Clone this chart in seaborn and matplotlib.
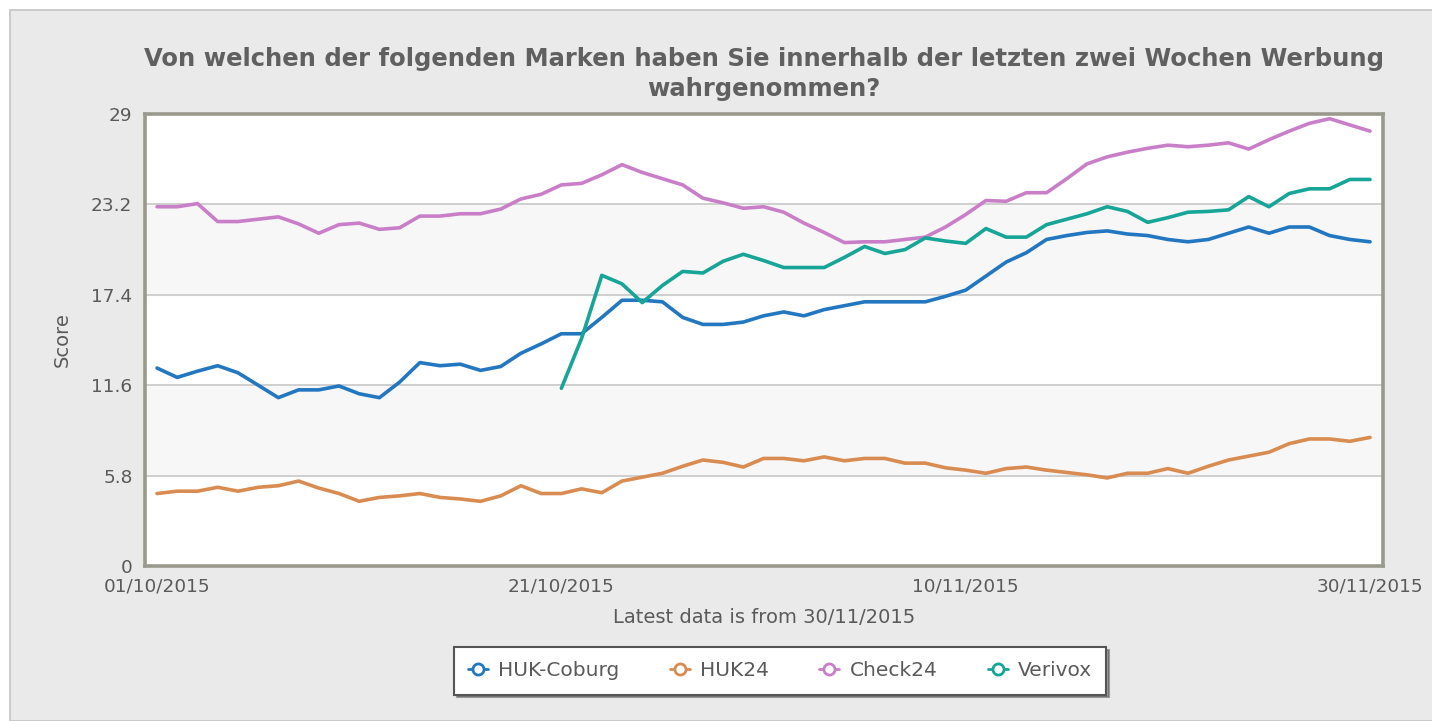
import pandas as pd
import numpy as np
import seaborn as sns
import matplotlib.pyplot as plt
from matplotlib.lines import Line2D
from matplotlib.patches import Rectangle

# daily scores 01/10/2015 .. 30/11/2015
dates = pd.date_range("2015-10-01", "2015-11-30", freq="D")

huk_coburg = [12.7, 12.1, 12.5, 12.85, 12.4, 11.6, 10.8, 11.3, 11.3, 11.55,
              11.05, 10.8, 11.8, 13.05, 12.85, 12.95, 12.55, 12.8, 13.65, 14.25,
              14.9, 14.9, 15.95, 17.05, 17.05, 16.95, 15.95, 15.5, 15.5, 15.65,
              16.05, 16.3, 16.05, 16.45, 16.7, 16.95, 16.95, 16.95, 16.95, 17.3,
              17.7, 18.6, 19.5, 20.1, 20.95, 21.2, 21.4, 21.5, 21.3, 21.2,
              20.95, 20.8, 20.95, 21.35, 21.75, 21.35, 21.75, 21.75, 21.2, 20.95,
              20.8]
huk24 = [4.65, 4.8, 4.8, 5.05, 4.8, 5.05, 5.15, 5.45, 5.0, 4.65,
         4.15, 4.4, 4.5, 4.65, 4.4, 4.3, 4.15, 4.5, 5.15, 4.65,
         4.65, 4.95, 4.7, 5.45, 5.7, 5.95, 6.4, 6.8, 6.65, 6.35,
         6.9, 6.9, 6.75, 7.0, 6.75, 6.9, 6.9, 6.6, 6.6, 6.3,
         6.15, 5.95, 6.25, 6.35, 6.15, 6.0, 5.85, 5.65, 5.95, 5.95,
         6.25, 5.95, 6.4, 6.8, 7.05, 7.3, 7.85, 8.15, 8.15, 8.0,
         8.25]
check24 = [23.05, 23.05, 23.25, 22.1, 22.1, 22.25, 22.4, 21.95, 21.35, 21.9,
           22.0, 21.6, 21.7, 22.45, 22.45, 22.6, 22.6, 22.9, 23.55, 23.85,
           24.45, 24.55, 25.1, 25.75, 25.25, 24.85, 24.45, 23.6, 23.3, 22.95,
           23.05, 22.7, 22.0, 21.4, 20.75, 20.8, 20.8, 20.95, 21.1, 21.75,
           22.55, 23.45, 23.4, 23.95, 23.95, 24.85, 25.8, 26.25, 26.55, 26.8,
           27.0, 26.9, 27.0, 27.15, 26.75, 27.35, 27.9, 28.4, 28.7, 28.3,
           27.9]
verivox = [np.nan] * 20 + [
           11.4, 14.6, 18.65, 18.1, 16.9, 18.0, 18.9, 18.8, 19.55, 20.0,
           19.6, 19.15, 19.15, 19.15, 19.8, 20.5, 20.05, 20.3, 21.05, 20.85,
           20.7, 21.65, 21.1, 21.1, 21.9, 22.25, 22.6, 23.05, 22.75, 22.05,
           22.35, 22.7, 22.75, 22.85, 23.7, 23.05, 23.9, 24.2, 24.2, 24.8,
           24.8]

brands = ["HUK-Coburg", "HUK24", "Check24", "Verivox"]
colors = ["#2277c0", "#d98c52", "#c97fc8", "#16a596"]
yticks = [0, 5.8, 11.6, 17.4, 23.2, 29]
yticklabels = ["0", "5.8", "11.6", "17.4", "23.2", "29"]
xticks = ["2015-10-01", "2015-10-21", "2015-11-10", "2015-11-30"]
xticklabels = ["01/10/2015", "21/10/2015", "10/11/2015", "30/11/2015"]

df = pd.DataFrame({"date": dates, "HUK-Coburg": huk_coburg, "HUK24": huk24,
                   "Check24": check24, "Verivox": verivox})
long = df.melt(id_vars="date", var_name="brand", value_name="score").dropna()

sns.set_style("white")
plt.rcParams['font.family'] = ['DejaVu Sans']

fig = plt.figure(figsize=(14.32, 7.21), dpi=100, facecolor="white")
fig.patches.append(Rectangle((10 / 1432, 0), 1, 1 - 10 / 721, transform=fig.transFigure,
                             facecolor="#eaeaea", edgecolor="#c4c4c4", linewidth=1.2, zorder=-10))
ax = fig.add_axes([145 / 1432, 1 - 566 / 721, (1383 - 145) / 1432, (566 - 114) / 721])

# alternating bands + grid
for i in range(len(yticks) - 1):
    ax.axhspan(yticks[i], yticks[i + 1], color="#f7f7f7" if i % 2 == 1 else "white", zorder=0)
for y in yticks[1:-1]:
    ax.axhline(y, color="#cccccc", linewidth=1.3, zorder=1)

sns.lineplot(data=long, x="date", y="score", hue="brand", hue_order=brands,
             palette=dict(zip(brands, colors)), linewidth=2.6, ax=ax, legend=False, zorder=3)

ax.set_ylim(0, 29)
ax.set_xlim(dates[0] - pd.Timedelta(hours=14.3), dates[-1] + pd.Timedelta(hours=15.4))
ax.set_yticks(yticks)
ax.set_yticklabels(yticklabels)
ax.set_xticks(pd.to_datetime(xticks))
ax.set_xticklabels(xticklabels)
ax.tick_params(axis="both", length=0, labelsize=13.3, colors="#5a5a5a")
ax.tick_params(axis="y", pad=9)
ax.tick_params(axis="x", pad=8)
for s in ax.spines.values():
    s.set_color("#9a9a8c")
    s.set_linewidth(2.6)

ax.set_xlabel("Latest data is from 30/11/2015", fontsize=14, color="#5a5a5a", labelpad=9)
ax.set_ylabel("Score", fontsize=14, color="#5a5a5a", labelpad=14)
ax.set_title("Von welchen der folgenden Marken haben Sie innerhalb der letzten zwei Wochen Werbung\nwahrgenommen?",
             fontsize=17.5, fontweight="bold", color="#606060", pad=13, linespacing=1.3)

handles = [Line2D([], [], color=c, linewidth=2, marker="o", markersize=8,
                  markerfacecolor="white", markeredgewidth=2) for c in colors]
leg = fig.legend(handles, brands, loc="center", bbox_to_anchor=(780 / 1432, 1 - 671 / 721),
                 ncol=4, frameon=True, fontsize=14.5, handlelength=1.0, columnspacing=2.5,
                 handletextpad=0.5, borderpad=0.7, fancybox=False, shadow=True)
leg.get_frame().set_edgecolor("#555555")
leg.get_frame().set_linewidth(1.5)
for t in leg.get_texts():
    t.set_color("#5a5a5a")

fig.savefig("out.png", dpi=100, facecolor=fig.get_facecolor())
